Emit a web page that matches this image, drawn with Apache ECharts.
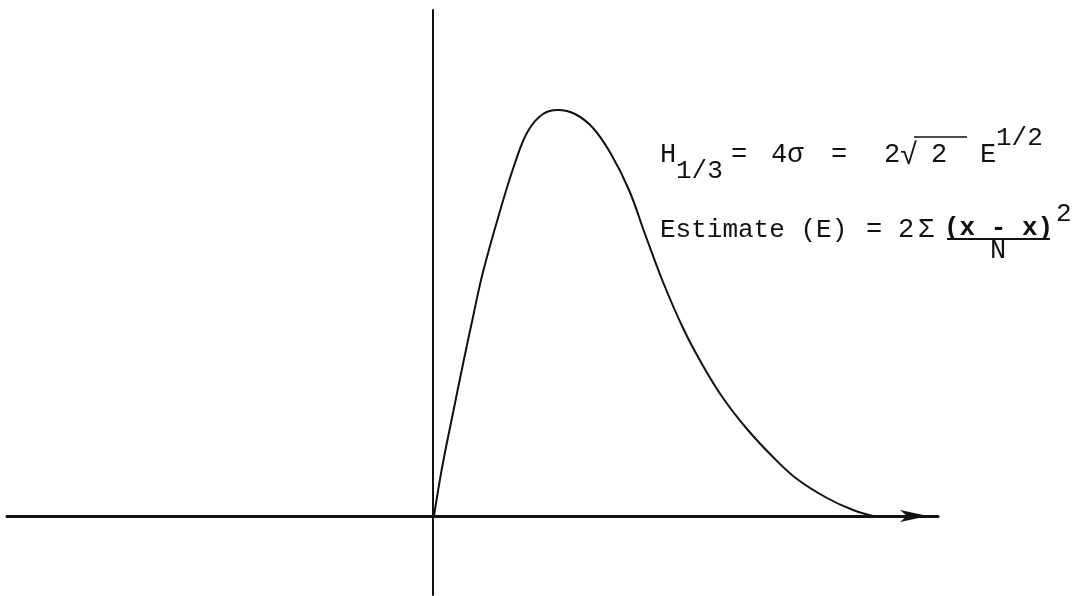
<!DOCTYPE html>
<html lang="en">
<head>
<meta charset="UTF-8" />
<title>Wave height distribution</title>
<style>
	html, body { margin: 0; padding: 0; background: #fff; }
	#main { width: 1083px; height: 596px; }
</style>
</head>
<body>
	<div id="main"></div>

	<script type="text/javascript" src="https://cdn.jsdelivr.net/npm/echarts@6/dist/echarts.min.js"></script>
	<script type="text/javascript">
		// curve (arbitrary units, origin where the axes cross)
		var curveX = [1, 9, 20, 30, 40, 50, 67, 82, 95, 110, 125, 142, 160, 178, 196, 212, 230, 250, 269, 290, 314, 340, 364, 394, 420, 440];
		var curveY = [0, 48, 103, 152, 199, 244, 305, 353, 385, 402, 406, 402, 388, 362, 326, 282, 234, 188, 152, 118, 87, 59, 37, 18, 6, 0];

		var xRange = [-426, 505];
		var yRange = [-79, 506];

		var curve = [];
		for (var i = 0; i < curveX.length; i++) {
			curve.push([curveX[i], curveY[i]]);
		}

		var ink = '#111';
		var mono = '"Liberation Mono", "DejaVu Sans Mono", monospace';

		function txt(s, x, y, size, bold) {
			return {
				type: 'text',
				x: x,
				y: y,
				style: {
					text: s,
					font: (bold ? 'bold ' : '') + size + 'px ' + mono,
					fill: ink,
					verticalAlign: 'middle'
				}
			};
		}

		var myChart = echarts.init(document.getElementById('main'));

		var option = {
			animation: false,
			backgroundColor: '#fff',
			grid: { left: 7, right: 145, top: 10, bottom: 1 },
			xAxis: {
				type: 'value',
				min: xRange[0],
				max: xRange[1],
				axisLine: {
					onZero: true,
					symbol: ['none', 'arrow'],
					symbolSize: [9, 28],
					symbolOffset: [0, -10],
					lineStyle: { color: ink, width: 3 }
				},
				axisTick: { show: false },
				axisLabel: { show: false },
				splitLine: { show: false }
			},
			yAxis: {
				type: 'value',
				min: yRange[0],
				max: yRange[1],
				axisLine: {
					onZero: true,
					lineStyle: { color: ink, width: 2 }
				},
				axisTick: { show: false },
				axisLabel: { show: false },
				splitLine: { show: false }
			},
			series: [{
				type: 'line',
				data: curve,
				smooth: 0.4,
				showSymbol: false,
				lineStyle: { color: ink, width: 2 }
			}],
			graphic: [
				// H1/3 = 4σ = 2√2 E^1/2
				txt('H', 660, 155, 27),
				txt('1/3', 676, 171, 26),
				txt('=', 731, 155, 27),
				txt('4σ', 771, 155, 27),
				txt('=', 831, 155, 27),
				txt('2', 884, 155, 27),
				txt('√', 900, 156, 30),
				txt('2', 931, 155, 27),
				{ type: 'line', shape: { x1: 914, y1: 137, x2: 967, y2: 137 }, style: { stroke: ink, lineWidth: 1.5 } },
				txt('E', 980, 155, 27),
				txt('1/2', 996, 138, 26),
				// Estimate (E) = 2Σ (x - x)^2 / N
				txt('Estimate (E)', 660, 230, 26),
				txt('=', 866, 230, 27),
				txt('2', 898, 230, 27),
				txt('Σ', 918, 230, 27),
				txt('(x - x)', 944, 228, 26, true),
				{ type: 'line', shape: { x1: 947, y1: 239, x2: 1050, y2: 239 }, style: { stroke: ink, lineWidth: 2 } },
				txt('N', 990, 251, 27),
				txt('2', 1056, 214, 26)
			]
		};

		myChart.setOption(option);
	</script>
</body>
</html>
